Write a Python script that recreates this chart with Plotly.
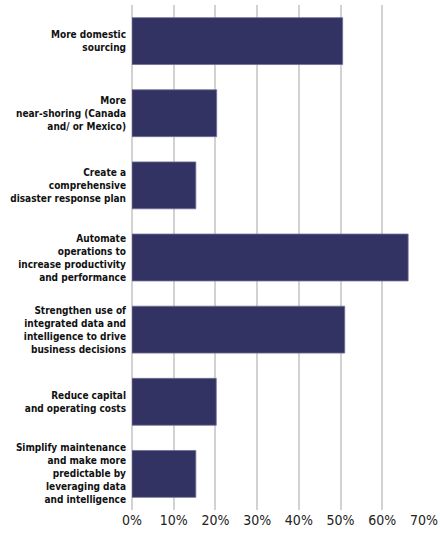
import plotly.graph_objects as go

categories = [
    "More domestic<br>sourcing",
    "More<br>near-shoring (Canada<br>and/ or Mexico)",
    "Create a<br>comprehensive<br>disaster response plan",
    "Automate<br>operations to<br>increase productivity<br>and performance",
    "Strengthen use of<br>integrated data and<br>intelligence to drive<br>business decisions",
    "Reduce capital<br>and operating costs",
    "Simplify maintenance<br>and make more<br>predictable by<br>leveraging data<br>and intelligence",
]
values = [50.5, 20.3, 15.3, 66.2, 51, 20.2, 15.3]
tick_vals = [0, 10, 20, 30, 40, 50, 60, 70]
tick_text = ["0%", "10%", "20%", "30%", "40%", "50%", "60%", "70%"]

fig = go.Figure(go.Bar(
    x=values, y=categories, orientation="h",
    marker=dict(color="#333363", line=dict(color="#6f6e98", width=0.8)),
    hoverinfo="skip",
))

fig.update_layout(
    width=440, height=533,
    margin=dict(l=132, r=16, t=5, b=23),
    paper_bgcolor="white", plot_bgcolor="white",
    bargap=0.35,
    showlegend=False,
    xaxis=dict(
        range=[0, 70], tickvals=tick_vals, ticktext=tick_text,
        showgrid=True, gridcolor="#d2d2d2", gridwidth=1.5,
        zeroline=True, zerolinecolor="#d2d2d2", zerolinewidth=1.5,
        tickfont=dict(family="DejaVu Sans Condensed, sans-serif", size=14, color="#222"),
        ticks="", automargin=False, fixedrange=True,
    ),
    yaxis=dict(
        autorange="reversed", showgrid=False, zeroline=False,
        tickfont=dict(family="DejaVu Sans Condensed, sans-serif", size=10, color="#111", weight="bold"),
        ticks="outside", ticklen=3, tickcolor="rgba(0,0,0,0)", automargin=False, fixedrange=True,
    ),
)

fig.write_html("out.html", config={"displayModeBar": False},
               post_script="document.body.style.margin='0';")
